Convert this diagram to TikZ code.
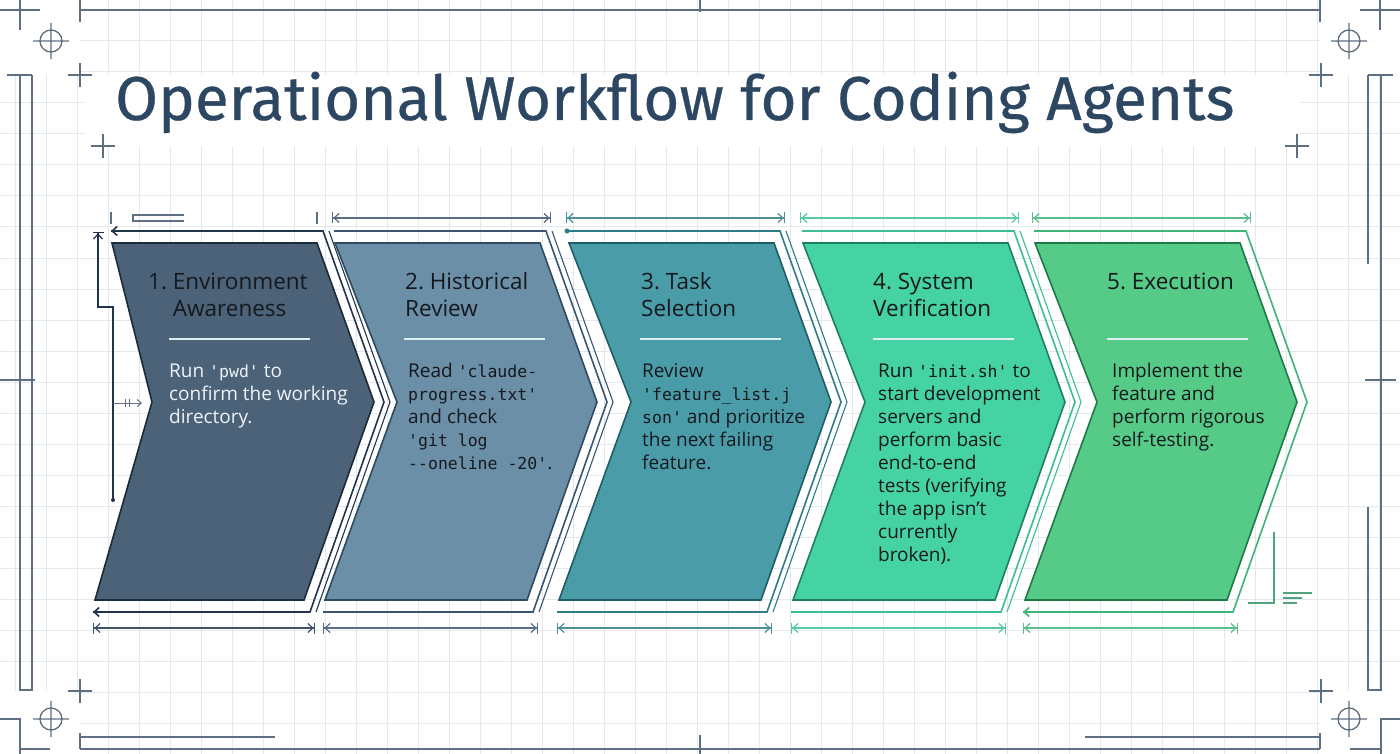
\documentclass[tikz,border=0pt]{standalone}
\usepackage{fontspec}
\setmainfont{Open Sans}
\setmonofont{DejaVu Sans Mono}
\newfontfamily\headfont[FakeBold=0.5]{Fira Sans}
\usetikzlibrary{arrows.meta,positioning}
\definecolor{navy}{HTML}{2D4763}
\definecolor{gridgray}{HTML}{E3E7EE}
\definecolor{framegray}{HTML}{5E6F82}
\definecolor{ink}{HTML}{15191E}
\definecolor{paper}{HTML}{EEF3F7}
\definecolor{rulefill}{HTML}{DCEFF3}
% chevron colours: fill / edge / guide line
\definecolor{slateA}{HTML}{4B6279}
\definecolor{slateAedge}{HTML}{1C2B3A}
\definecolor{slateAline}{HTML}{22344A}
\definecolor{steelB}{HTML}{6C8FA8}
\definecolor{steelBedge}{HTML}{2E4A62}
\definecolor{steelBline}{HTML}{3A5570}
\definecolor{tealC}{HTML}{4A9DA8}
\definecolor{tealCedge}{HTML}{1E5D66}
\definecolor{tealCline}{HTML}{2E7C86}
\definecolor{mintD}{HTML}{45D3A3}
\definecolor{mintDedge}{HTML}{1E7F60}
\definecolor{mintDline}{HTML}{3ABF94}
\definecolor{greenE}{HTML}{56CB87}
\definecolor{greenEedge}{HTML}{1D7A48}
\definecolor{greenEline}{HTML}{3DB478}
\newcommand\snippet[1]{{\ttfamily\fontsize{16.5}{23}\selectfont #1}}
\newcommand\textlines[1]{\begin{tabular}[t]{@{}l@{}}#1\end{tabular}}
\tikzset{
  gridline/.style={draw=gridgray,line width=1pt},
  framing/.style={draw=framegray,line width=1.6pt},
  reticle/.style={draw=framegray,line width=1.3pt},
  guide/.style={line width=1.6pt,line join=miter},
  dimline/.style={{Bar[width=11pt]Straight Barb[length=5pt,width=9pt]}-{Straight Barb[length=5pt,width=9pt]Bar[width=11pt]},line width=1.2pt},
  steptitle/.style={anchor=base west,inner sep=0pt,text=ink,
                    font=\fontsize{22.5}{27}\selectfont},
  stepbody/.style={anchor=base west,inner sep=0pt,text=ink,
                   font=\fontsize{19}{23}\selectfont},
  steprule/.style={draw=rulefill,line width=1.6pt},
}
\begin{document}
\begin{tikzpicture}[x=1pt,y=-1pt]
  \useasboundingbox[fill=white] (0,0) rectangle (1400,754);
  % background grid
  \foreach \gx in {0,...,45}
    \draw[gridline] ({15+31*\gx},0) -- ({15+31*\gx},754);
  \foreach \gy in {0,...,24}
    \draw[gridline] (0,{10+31*\gy}) -- (1400,{10+31*\gy});
  \fill[white] (0,0) rectangle (80,75) (1320,0) rectangle (1400,75)
    (0,691) rectangle (80,754) (1320,691) rectangle (1400,754);
  \fill[white] (85,75) rectangle (1300,146);

  % frame
  \draw[framing] (80,10) -- (1320,10) (80,0) -- (80,22) (1320,0) -- (1320,22) (700,0) -- (700,12);
  \draw[framing] (80,749) -- (1320,749) (80,733) -- (80,749) (1320,733) -- (1320,749) (700,735) -- (700,754);
  \draw[framing,line width=1.2pt] (80,737) -- (275,737) (1085,737) -- (1320,737);
  \draw[framing] (7,75) -- (32,75) (20,75) -- (20,690) -- (32,690) -- (32,75) (0,380) -- (35,380);
  \draw[framing] (1368,75) -- (1393,75) (1381,75) -- (1381,690) -- (1368,690) -- (1368,507)
    (1368,264) -- (1368,75) (1365,380) -- (1396,380);
  \draw[framing] (0,719) -- (20,719) -- (20,754) (20,749) -- (50,749);
  \draw[framing] (1400,719) -- (1381,719) -- (1381,754) (1381,749) -- (1350,749);
  \foreach \cx/\cy in {51/41,1349/41,51/719,1349/719}
    \draw[reticle] (\cx,\cy) circle[radius=11] ({\cx-18},\cy) -- ({\cx+18},\cy)
      (\cx,{\cy-18}) -- (\cx,{\cy+18});
  \foreach \px/\py/\arm in {20/10/20,1380/10/20,80/75/12,103/146/12,1321/75/12,1297/146/12,80/691/12,1321/691/12}
    \draw[reticle] ({\px-\arm},\py) -- ({\px+\arm},\py) (\px,{\py-\arm}) -- (\px,{\py+\arm});

  % title
  \node[anchor=base west,inner sep=0pt,text=navy,font=\headfont\fontsize{62}{66}\selectfont]
    (title) at (115,120) {Operational Workflow for Coding Agents};

  % chevrons
  \foreach \xo/\nt/\bl/\fc/\ec/\lc in {112/40/95/slateA/slateAedge/slateAline,
      335/62/325/steelB/steelBedge/steelBline, 569/62/559/tealC/tealCedge/tealCline,
      803/62/793/mintD/mintDedge/mintDline, 1035/62/1025/greenE/greenEedge/greenEline}{
    \filldraw[fill=\fc,draw=\ec,line width=1.6pt,line join=miter]
      (\xo,243) -- ({\xo+205},243) -- ({\xo+262},402) -- ({\xo+192},600)
      -- (\bl,600) -- ({\xo+\nt},402) -- cycle;
    \draw[guide,draw=\lc] ({\xo-1},231) -- ({\xo+211},231) -- ({\xo+272},402)
      -- ({\xo+198},612) -- ({\bl-2},612);
    \ifnum\xo<1000
      \draw[guide,draw=\lc,line width=1.1pt] ({\xo+217},231) -- ({\xo+278},402) -- ({\xo+204},612);
    \fi
    \ifnum\xo>200
      \draw[dimline,draw=\lc!85] ({\xo-3},218) -- ({\xo+216},218);
    \fi
    \draw[dimline,draw=\lc!85] ({\bl-2},628) -- ({\xo+203},628);
  }
  % arrow ends and marks
  \draw[guide,draw=slateAline,-{Straight Barb[length=5pt,width=9pt]}] (120,231) -- (111,231);
  \draw[guide,draw=slateAline,-{Straight Barb[length=5pt,width=9pt]}] (102,612) -- (93,612);
  \draw[guide,draw=greenEline,-{Straight Barb[length=5pt,width=9pt]}] (1032,612) -- (1023,612);
  \fill[tealCline] (567,231) circle[radius=2.5];
  \draw[framing,line width=1.2pt] (111,212) -- (111,224) (317,212) -- (317,224)
    (184,215) -- (133,215) -- (133,221) -- (184,221);
  \draw[guide,draw=slateAline,line width=1.2pt,{Bar[width=11pt]Straight Barb[length=5pt,width=9pt]}-]
    (98,232) -- (98,307) -- (113,307) -- (113,500);
  \fill[slateAline] (113,500) circle[radius=2];
  \draw[framing,line width=1pt,-{Straight Barb[length=4pt,width=7pt]}] (113,403) -- (142,403);
  \draw[framing,line width=1pt] (125,399) -- (125,407) (129,399) -- (129,407);
  \draw[draw=greenEline!70!gray,line width=1.2pt] (1248,603) -- (1274,603) -- (1274,532)
    (1283,593) -- (1312,593) (1283,598) -- (1302,598) (1283,603) -- (1297,603);

  % separators
  \foreach \sx in {169,404,640,873,1107}
    \draw[steprule] (\sx,339) -- ({\sx+141},339);

  % step texts
  \node[steptitle] (t1) at (148,289) {\textlines{1.\ Environment\\\phantom{1.\ }Awareness}};
  \node[stepbody,text=paper] (b1) at (169,377) {\textlines{Run \snippet{'pwd'} to\\confirm the working\\directory.}};
  \node[steptitle] (t2) at (405,289) {\textlines{2.\ Historical\\Review}};
  \node[stepbody] (b2) at (408,377) {\textlines{Read \snippet{'claude-}\\\snippet{progress.txt'}\\and check\\\snippet{'git log}\\\snippet{-{}-oneline -20'}.}};
  \node[steptitle] (t3) at (641,289) {\textlines{3.\ Task\\Selection}};
  \node[stepbody] (b3) at (642,377) {\textlines{Review\\\snippet{'feature\_list.j}\\\snippet{son'} and prioritize\\the next failing\\feature.}};
  \node[steptitle] (t4) at (873,289) {\textlines{4.\ System\\Verification}};
  \node[stepbody] (b4) at (878,377) {\textlines{Run \snippet{'init.sh'} to\\start development\\servers and\\perform basic\\end-to-end\\tests (verifying\\the app isn't\\currently\\broken).}};
  \node[steptitle] (t5) at (1107,289) {5.\ Execution};
  \node[stepbody] (b5) at (1112,377) {\textlines{Implement the\\feature and\\perform rigorous\\self-testing.}};
\end{tikzpicture}
\end{document}
